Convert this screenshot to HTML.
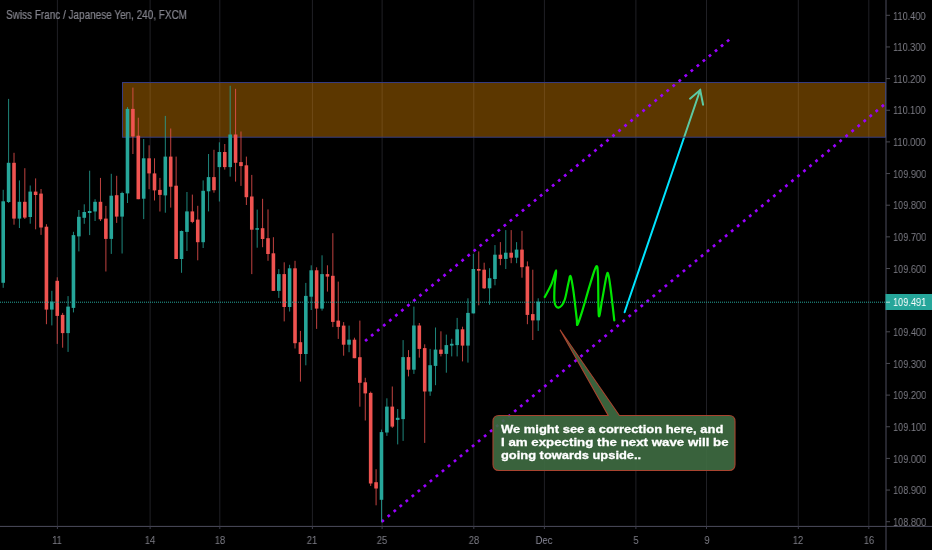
<!DOCTYPE html><html><head><meta charset="utf-8"><style>
html,body{margin:0;padding:0;background:#000;width:932px;height:550px;overflow:hidden;position:relative;font-family:"Liberation Sans",sans-serif}
.t{position:absolute;white-space:nowrap;line-height:1}
.pl{position:absolute;left:893px;font-size:11px;color:#7d7d86;transform-origin:0 0;transform:scaleX(0.835);will-change:transform}
.tl{position:absolute;font-size:10.5px;color:#7d7d86;transform:translateX(-50%) scaleX(0.9);will-change:transform}
</style></head><body>
<svg width="932" height="550" viewBox="0 0 932 550" style="position:absolute;left:0;top:0">
<rect x="56.90" y="0" width="1" height="526" fill="#202025"/>
<rect x="149.60" y="0" width="1" height="526" fill="#202025"/>
<rect x="219.30" y="0" width="1" height="526" fill="#202025"/>
<rect x="311.90" y="0" width="1" height="526" fill="#202025"/>
<rect x="381.60" y="0" width="1" height="526" fill="#202025"/>
<rect x="473.30" y="0" width="1" height="526" fill="#202025"/>
<rect x="543.90" y="0" width="1" height="526" fill="#202025"/>
<rect x="635.40" y="0" width="1" height="526" fill="#202025"/>
<rect x="706.00" y="0" width="1" height="526" fill="#202025"/>
<rect x="797.80" y="0" width="1" height="526" fill="#202025"/>
<rect x="868.30" y="0" width="1" height="526" fill="#202025"/>
<g stroke="#00e5ff" stroke-width="2" stroke-linecap="round" fill="none"><line x1="624.6" y1="312.2" x2="700.2" y2="90.0"/><polyline points="690,98.7 700.2,90.0 703.1,104.7"/></g>
<rect x="122.5" y="82.5" width="763" height="54.7" fill="rgba(255,152,0,0.36)" stroke="#363c80" stroke-width="1"/>
<line x1="366.1" y1="340.2" x2="728.6" y2="40.2" stroke="#9a00ff" stroke-width="2.7" stroke-linecap="square" stroke-dasharray="0.1 7.73"/>
<line x1="382.7" y1="520.9" x2="883.0" y2="105.6" stroke="#9a00ff" stroke-width="2.7" stroke-linecap="square" stroke-dasharray="0.1 7.73"/>
<rect x="2.70" y="189.8" width="1" height="98.0" fill="#26a69a" fill-opacity="0.8"/>
<rect x="1.40" y="201.3" width="3.6" height="81.5" fill="#26a69a"/>
<rect x="8.10" y="98.9" width="1" height="104.1" fill="#26a69a" fill-opacity="0.8"/>
<rect x="6.80" y="162.8" width="3.6" height="39.2" fill="#26a69a"/>
<rect x="13.51" y="152.8" width="1" height="71.9" fill="#ef5350" fill-opacity="0.8"/>
<rect x="12.21" y="162.8" width="3.6" height="55.8" fill="#ef5350"/>
<rect x="18.91" y="180.4" width="1" height="47.6" fill="#26a69a" fill-opacity="0.8"/>
<rect x="17.61" y="201.8" width="3.6" height="16.8" fill="#26a69a"/>
<rect x="24.32" y="168.2" width="1" height="50.8" fill="#ef5350" fill-opacity="0.8"/>
<rect x="23.02" y="201.8" width="3.6" height="15.8" fill="#ef5350"/>
<rect x="29.72" y="185.5" width="1" height="38.2" fill="#26a69a" fill-opacity="0.8"/>
<rect x="28.42" y="191.6" width="3.6" height="25.4" fill="#26a69a"/>
<rect x="35.12" y="178.4" width="1" height="50.9" fill="#ef5350" fill-opacity="0.8"/>
<rect x="33.82" y="191.6" width="3.6" height="3.4" fill="#ef5350"/>
<rect x="40.53" y="189.0" width="1" height="45.9" fill="#ef5350" fill-opacity="0.8"/>
<rect x="39.23" y="193.6" width="3.6" height="33.9" fill="#ef5350"/>
<rect x="45.93" y="224.2" width="1" height="100.0" fill="#ef5350" fill-opacity="0.8"/>
<rect x="44.63" y="226.7" width="3.6" height="82.9" fill="#ef5350"/>
<rect x="51.34" y="290.8" width="1" height="34.6" fill="#26a69a" fill-opacity="0.8"/>
<rect x="50.04" y="301.6" width="3.6" height="8.0" fill="#26a69a"/>
<rect x="56.74" y="277.3" width="1" height="66.6" fill="#ef5350" fill-opacity="0.8"/>
<rect x="55.44" y="280.8" width="3.6" height="35.1" fill="#ef5350"/>
<rect x="62.14" y="312.9" width="1" height="34.8" fill="#ef5350" fill-opacity="0.8"/>
<rect x="60.84" y="314.9" width="3.6" height="18.2" fill="#ef5350"/>
<rect x="67.55" y="296.1" width="1" height="55.8" fill="#26a69a" fill-opacity="0.8"/>
<rect x="66.25" y="306.6" width="3.6" height="26.5" fill="#26a69a"/>
<rect x="72.95" y="231.8" width="1" height="80.6" fill="#26a69a" fill-opacity="0.8"/>
<rect x="71.65" y="235.1" width="3.6" height="72.8" fill="#26a69a"/>
<rect x="78.36" y="210.0" width="1" height="41.4" fill="#26a69a" fill-opacity="0.8"/>
<rect x="77.06" y="216.8" width="3.6" height="19.6" fill="#26a69a"/>
<rect x="83.76" y="204.3" width="1" height="19.5" fill="#26a69a" fill-opacity="0.8"/>
<rect x="82.46" y="212.0" width="3.6" height="5.8" fill="#26a69a"/>
<rect x="89.16" y="170.7" width="1" height="64.4" fill="#26a69a" fill-opacity="0.8"/>
<rect x="87.86" y="211.0" width="3.6" height="2.0" fill="#26a69a"/>
<rect x="94.57" y="199.2" width="1" height="21.8" fill="#26a69a" fill-opacity="0.8"/>
<rect x="93.27" y="201.8" width="3.6" height="9.7" fill="#26a69a"/>
<rect x="99.97" y="177.9" width="1" height="43.1" fill="#ef5350" fill-opacity="0.8"/>
<rect x="98.67" y="201.8" width="3.6" height="17.5" fill="#ef5350"/>
<rect x="105.38" y="205.9" width="1" height="65.6" fill="#ef5350" fill-opacity="0.8"/>
<rect x="104.08" y="218.6" width="3.6" height="20.3" fill="#ef5350"/>
<rect x="110.78" y="173.8" width="1" height="80.1" fill="#26a69a" fill-opacity="0.8"/>
<rect x="109.48" y="195.7" width="3.6" height="43.2" fill="#26a69a"/>
<rect x="116.18" y="175.8" width="1" height="47.1" fill="#ef5350" fill-opacity="0.8"/>
<rect x="114.88" y="195.2" width="3.6" height="21.4" fill="#ef5350"/>
<rect x="121.59" y="191.7" width="1" height="61.8" fill="#26a69a" fill-opacity="0.8"/>
<rect x="120.29" y="193.0" width="3.6" height="23.6" fill="#26a69a"/>
<rect x="126.99" y="107.1" width="1" height="95.9" fill="#26a69a" fill-opacity="0.8"/>
<rect x="125.69" y="108.9" width="3.6" height="84.5" fill="#26a69a"/>
<rect x="132.40" y="87.6" width="1" height="66.4" fill="#ef5350" fill-opacity="0.8"/>
<rect x="131.10" y="108.9" width="3.6" height="27.6" fill="#ef5350"/>
<rect x="137.80" y="117.7" width="1" height="81.5" fill="#ef5350" fill-opacity="0.8"/>
<rect x="136.50" y="135.7" width="3.6" height="63.5" fill="#ef5350"/>
<rect x="143.20" y="139.0" width="1" height="80.1" fill="#26a69a" fill-opacity="0.8"/>
<rect x="141.90" y="158.3" width="3.6" height="40.4" fill="#26a69a"/>
<rect x="148.61" y="145.3" width="1" height="43.9" fill="#ef5350" fill-opacity="0.8"/>
<rect x="147.31" y="158.3" width="3.6" height="15.1" fill="#ef5350"/>
<rect x="154.01" y="158.3" width="1" height="42.2" fill="#ef5350" fill-opacity="0.8"/>
<rect x="152.71" y="173.4" width="3.6" height="17.0" fill="#ef5350"/>
<rect x="159.42" y="177.9" width="1" height="33.6" fill="#ef5350" fill-opacity="0.8"/>
<rect x="158.12" y="189.9" width="3.6" height="5.0" fill="#ef5350"/>
<rect x="164.82" y="115.9" width="1" height="96.8" fill="#26a69a" fill-opacity="0.8"/>
<rect x="163.52" y="156.6" width="3.6" height="38.8" fill="#26a69a"/>
<rect x="170.22" y="128.5" width="1" height="79.1" fill="#ef5350" fill-opacity="0.8"/>
<rect x="168.92" y="156.6" width="3.6" height="30.1" fill="#ef5350"/>
<rect x="175.63" y="156.6" width="1" height="102.4" fill="#ef5350" fill-opacity="0.8"/>
<rect x="174.33" y="185.7" width="3.6" height="73.3" fill="#ef5350"/>
<rect x="181.03" y="230.5" width="1" height="42.3" fill="#26a69a" fill-opacity="0.8"/>
<rect x="179.73" y="231.0" width="3.6" height="28.0" fill="#26a69a"/>
<rect x="186.44" y="192.0" width="1" height="59.0" fill="#26a69a" fill-opacity="0.8"/>
<rect x="185.14" y="211.4" width="3.6" height="20.5" fill="#26a69a"/>
<rect x="191.84" y="194.6" width="1" height="28.6" fill="#ef5350" fill-opacity="0.8"/>
<rect x="190.54" y="211.4" width="3.6" height="10.5" fill="#ef5350"/>
<rect x="197.24" y="205.8" width="1" height="54.5" fill="#ef5350" fill-opacity="0.8"/>
<rect x="195.94" y="219.6" width="3.6" height="22.6" fill="#ef5350"/>
<rect x="202.65" y="180.4" width="1" height="67.6" fill="#26a69a" fill-opacity="0.8"/>
<rect x="201.35" y="190.8" width="3.6" height="51.4" fill="#26a69a"/>
<rect x="208.05" y="154.0" width="1" height="57.4" fill="#26a69a" fill-opacity="0.8"/>
<rect x="206.75" y="177.1" width="3.6" height="14.2" fill="#26a69a"/>
<rect x="213.46" y="149.8" width="1" height="42.9" fill="#ef5350" fill-opacity="0.8"/>
<rect x="212.16" y="177.1" width="3.6" height="13.1" fill="#ef5350"/>
<rect x="218.86" y="142.3" width="1" height="59.2" fill="#26a69a" fill-opacity="0.8"/>
<rect x="217.56" y="152.0" width="3.6" height="15.1" fill="#26a69a"/>
<rect x="224.26" y="144.0" width="1" height="25.6" fill="#ef5350" fill-opacity="0.8"/>
<rect x="222.96" y="152.0" width="3.6" height="15.1" fill="#ef5350"/>
<rect x="229.67" y="85.8" width="1" height="90.8" fill="#26a69a" fill-opacity="0.8"/>
<rect x="228.37" y="134.5" width="3.6" height="32.6" fill="#26a69a"/>
<rect x="235.07" y="88.8" width="1" height="92.8" fill="#ef5350" fill-opacity="0.8"/>
<rect x="233.77" y="134.5" width="3.6" height="28.3" fill="#ef5350"/>
<rect x="240.48" y="131.5" width="1" height="54.4" fill="#ef5350" fill-opacity="0.8"/>
<rect x="239.18" y="162.1" width="3.6" height="4.0" fill="#ef5350"/>
<rect x="245.88" y="156.6" width="1" height="48.4" fill="#ef5350" fill-opacity="0.8"/>
<rect x="244.58" y="165.3" width="3.6" height="31.9" fill="#ef5350"/>
<rect x="251.28" y="174.9" width="1" height="99.2" fill="#ef5350" fill-opacity="0.8"/>
<rect x="249.98" y="196.5" width="3.6" height="33.2" fill="#ef5350"/>
<rect x="256.69" y="209.6" width="1" height="38.1" fill="#26a69a" fill-opacity="0.8"/>
<rect x="255.39" y="228.2" width="3.6" height="1.5" fill="#26a69a"/>
<rect x="262.09" y="198.8" width="1" height="48.4" fill="#ef5350" fill-opacity="0.8"/>
<rect x="260.79" y="228.2" width="3.6" height="10.8" fill="#ef5350"/>
<rect x="267.50" y="209.4" width="1" height="51.4" fill="#ef5350" fill-opacity="0.8"/>
<rect x="266.20" y="238.2" width="3.6" height="15.8" fill="#ef5350"/>
<rect x="272.90" y="237.2" width="1" height="53.7" fill="#ef5350" fill-opacity="0.8"/>
<rect x="271.60" y="253.3" width="3.6" height="37.6" fill="#ef5350"/>
<rect x="278.30" y="269.1" width="1" height="28.8" fill="#26a69a" fill-opacity="0.8"/>
<rect x="277.00" y="274.1" width="3.6" height="16.8" fill="#26a69a"/>
<rect x="283.71" y="262.3" width="1" height="59.1" fill="#ef5350" fill-opacity="0.8"/>
<rect x="282.41" y="274.1" width="3.6" height="32.9" fill="#ef5350"/>
<rect x="289.11" y="264.8" width="1" height="46.7" fill="#26a69a" fill-opacity="0.8"/>
<rect x="287.81" y="268.3" width="3.6" height="38.7" fill="#26a69a"/>
<rect x="294.52" y="260.8" width="1" height="87.7" fill="#ef5350" fill-opacity="0.8"/>
<rect x="293.22" y="268.3" width="3.6" height="74.9" fill="#ef5350"/>
<rect x="299.92" y="330.9" width="1" height="50.7" fill="#ef5350" fill-opacity="0.8"/>
<rect x="298.62" y="342.2" width="3.6" height="11.8" fill="#ef5350"/>
<rect x="305.32" y="282.9" width="1" height="82.4" fill="#26a69a" fill-opacity="0.8"/>
<rect x="304.02" y="295.9" width="3.6" height="58.1" fill="#26a69a"/>
<rect x="310.73" y="265.3" width="1" height="44.7" fill="#26a69a" fill-opacity="0.8"/>
<rect x="309.43" y="270.3" width="3.6" height="26.4" fill="#26a69a"/>
<rect x="316.13" y="267.3" width="1" height="61.6" fill="#ef5350" fill-opacity="0.8"/>
<rect x="314.83" y="270.3" width="3.6" height="38.3" fill="#ef5350"/>
<rect x="321.54" y="255.3" width="1" height="55.3" fill="#26a69a" fill-opacity="0.8"/>
<rect x="320.24" y="274.1" width="3.6" height="34.5" fill="#26a69a"/>
<rect x="326.94" y="265.3" width="1" height="26.3" fill="#ef5350" fill-opacity="0.8"/>
<rect x="325.64" y="274.1" width="3.6" height="2.5" fill="#ef5350"/>
<rect x="332.34" y="233.2" width="1" height="93.9" fill="#ef5350" fill-opacity="0.8"/>
<rect x="331.04" y="275.8" width="3.6" height="46.1" fill="#ef5350"/>
<rect x="337.75" y="281.6" width="1" height="57.3" fill="#ef5350" fill-opacity="0.8"/>
<rect x="336.45" y="320.6" width="3.6" height="6.3" fill="#ef5350"/>
<rect x="343.15" y="322.1" width="1" height="33.6" fill="#ef5350" fill-opacity="0.8"/>
<rect x="341.85" y="325.6" width="3.6" height="19.1" fill="#ef5350"/>
<rect x="348.56" y="325.6" width="1" height="26.6" fill="#26a69a" fill-opacity="0.8"/>
<rect x="347.26" y="339.7" width="3.6" height="5.0" fill="#26a69a"/>
<rect x="353.96" y="337.7" width="1" height="20.5" fill="#ef5350" fill-opacity="0.8"/>
<rect x="352.66" y="339.7" width="3.6" height="18.5" fill="#ef5350"/>
<rect x="359.36" y="320.6" width="1" height="86.1" fill="#ef5350" fill-opacity="0.8"/>
<rect x="358.06" y="357.2" width="3.6" height="25.6" fill="#ef5350"/>
<rect x="364.77" y="377.8" width="1" height="42.7" fill="#ef5350" fill-opacity="0.8"/>
<rect x="363.47" y="382.3" width="3.6" height="11.1" fill="#ef5350"/>
<rect x="370.17" y="391.6" width="1" height="94.4" fill="#ef5350" fill-opacity="0.8"/>
<rect x="368.87" y="392.9" width="3.6" height="90.6" fill="#ef5350"/>
<rect x="375.58" y="469.2" width="1" height="36.1" fill="#ef5350" fill-opacity="0.8"/>
<rect x="374.28" y="482.2" width="3.6" height="6.3" fill="#ef5350"/>
<rect x="380.98" y="429.6" width="1" height="92.8" fill="#26a69a" fill-opacity="0.8"/>
<rect x="379.68" y="432.1" width="3.6" height="67.7" fill="#26a69a"/>
<rect x="386.38" y="398.3" width="1" height="37.6" fill="#26a69a" fill-opacity="0.8"/>
<rect x="385.08" y="406.6" width="3.6" height="25.9" fill="#26a69a"/>
<rect x="391.79" y="386.5" width="1" height="41.4" fill="#ef5350" fill-opacity="0.8"/>
<rect x="390.49" y="406.6" width="3.6" height="20.0" fill="#ef5350"/>
<rect x="397.19" y="409.0" width="1" height="35.4" fill="#26a69a" fill-opacity="0.8"/>
<rect x="395.89" y="417.8" width="3.6" height="2.1" fill="#26a69a"/>
<rect x="402.60" y="340.1" width="1" height="100.8" fill="#26a69a" fill-opacity="0.8"/>
<rect x="401.30" y="357.1" width="3.6" height="62.0" fill="#26a69a"/>
<rect x="408.00" y="350.1" width="1" height="26.3" fill="#ef5350" fill-opacity="0.8"/>
<rect x="406.70" y="357.1" width="3.6" height="12.6" fill="#ef5350"/>
<rect x="413.40" y="306.6" width="1" height="67.3" fill="#26a69a" fill-opacity="0.8"/>
<rect x="412.10" y="325.5" width="3.6" height="44.2" fill="#26a69a"/>
<rect x="418.81" y="323.0" width="1" height="34.6" fill="#ef5350" fill-opacity="0.8"/>
<rect x="417.51" y="325.5" width="3.6" height="23.4" fill="#ef5350"/>
<rect x="424.21" y="344.3" width="1" height="98.6" fill="#ef5350" fill-opacity="0.8"/>
<rect x="422.91" y="348.1" width="3.6" height="43.4" fill="#ef5350"/>
<rect x="429.62" y="348.9" width="1" height="46.9" fill="#26a69a" fill-opacity="0.8"/>
<rect x="428.32" y="365.2" width="3.6" height="26.3" fill="#26a69a"/>
<rect x="435.02" y="327.5" width="1" height="57.7" fill="#26a69a" fill-opacity="0.8"/>
<rect x="433.72" y="349.6" width="3.6" height="16.3" fill="#26a69a"/>
<rect x="440.42" y="331.3" width="1" height="25.1" fill="#ef5350" fill-opacity="0.8"/>
<rect x="439.12" y="349.6" width="3.6" height="4.3" fill="#ef5350"/>
<rect x="445.83" y="334.6" width="1" height="38.1" fill="#26a69a" fill-opacity="0.8"/>
<rect x="444.53" y="345.1" width="3.6" height="8.8" fill="#26a69a"/>
<rect x="451.23" y="338.8" width="1" height="17.6" fill="#26a69a" fill-opacity="0.8"/>
<rect x="449.93" y="343.8" width="3.6" height="1.8" fill="#26a69a"/>
<rect x="456.64" y="317.9" width="1" height="38.5" fill="#26a69a" fill-opacity="0.8"/>
<rect x="455.34" y="329.3" width="3.6" height="15.8" fill="#26a69a"/>
<rect x="462.04" y="326.7" width="1" height="34.7" fill="#ef5350" fill-opacity="0.8"/>
<rect x="460.74" y="329.3" width="3.6" height="16.3" fill="#ef5350"/>
<rect x="467.44" y="298.3" width="1" height="64.3" fill="#26a69a" fill-opacity="0.8"/>
<rect x="466.14" y="312.9" width="3.6" height="32.7" fill="#26a69a"/>
<rect x="472.85" y="253.9" width="1" height="59.5" fill="#26a69a" fill-opacity="0.8"/>
<rect x="471.55" y="269.0" width="3.6" height="44.4" fill="#26a69a"/>
<rect x="478.25" y="251.4" width="1" height="53.9" fill="#ef5350" fill-opacity="0.8"/>
<rect x="476.95" y="269.0" width="3.6" height="1.7" fill="#ef5350"/>
<rect x="483.66" y="262.7" width="1" height="26.3" fill="#ef5350" fill-opacity="0.8"/>
<rect x="482.36" y="269.7" width="3.6" height="18.6" fill="#ef5350"/>
<rect x="489.06" y="268.2" width="1" height="36.6" fill="#26a69a" fill-opacity="0.8"/>
<rect x="487.76" y="278.2" width="3.6" height="10.1" fill="#26a69a"/>
<rect x="494.46" y="245.1" width="1" height="40.2" fill="#26a69a" fill-opacity="0.8"/>
<rect x="493.16" y="254.7" width="3.6" height="24.3" fill="#26a69a"/>
<rect x="499.87" y="242.1" width="1" height="23.1" fill="#ef5350" fill-opacity="0.8"/>
<rect x="498.57" y="254.7" width="3.6" height="4.2" fill="#ef5350"/>
<rect x="505.27" y="230.1" width="1" height="38.9" fill="#26a69a" fill-opacity="0.8"/>
<rect x="503.97" y="252.7" width="3.6" height="6.2" fill="#26a69a"/>
<rect x="510.68" y="230.1" width="1" height="33.1" fill="#ef5350" fill-opacity="0.8"/>
<rect x="509.38" y="252.7" width="3.6" height="5.0" fill="#ef5350"/>
<rect x="516.08" y="242.1" width="1" height="21.1" fill="#26a69a" fill-opacity="0.8"/>
<rect x="514.78" y="249.6" width="3.6" height="8.1" fill="#26a69a"/>
<rect x="521.48" y="230.8" width="1" height="46.9" fill="#ef5350" fill-opacity="0.8"/>
<rect x="520.18" y="249.6" width="3.6" height="17.6" fill="#ef5350"/>
<rect x="526.89" y="261.4" width="1" height="62.8" fill="#ef5350" fill-opacity="0.8"/>
<rect x="525.59" y="266.4" width="3.6" height="48.5" fill="#ef5350"/>
<rect x="532.29" y="269.7" width="1" height="70.3" fill="#ef5350" fill-opacity="0.8"/>
<rect x="530.99" y="314.1" width="3.6" height="6.3" fill="#ef5350"/>
<rect x="537.70" y="298.3" width="1" height="32.6" fill="#26a69a" fill-opacity="0.8"/>
<rect x="536.40" y="301.6" width="3.6" height="18.8" fill="#26a69a"/>
<line x1="0" y1="302.2" x2="885" y2="302.2" stroke="#26a69a" stroke-width="1" stroke-dasharray="1 1"/>
<path d="M544.7,297.1 C545.80,294.98 549.38,288.83 551.3,284.4 C553.22,279.97 555.65,270.23 556.2,270.5 C556.75,270.77 554.87,280.68 554.6,286 C554.33,291.32 553.92,298.80 554.6,302.4 C555.28,306.00 557.07,307.88 558.7,307.6 C560.33,307.32 562.77,304.85 564.4,300.7 C566.03,296.55 567.47,286.78 568.5,282.7 C569.53,278.62 569.78,274.83 570.6,276.2 C571.42,277.57 572.38,283.82 573.4,290.9 C574.42,297.98 576.02,313.10 576.7,318.7 C577.38,324.30 576.55,325.85 577.5,324.5 C578.45,323.15 580.22,317.57 582.4,310.6 C584.58,303.63 588.28,290.07 590.6,282.7 C592.92,275.33 595.07,267.48 596.3,266.4 C597.53,265.32 597.58,268.02 598,276.2 C598.42,284.38 598.13,311.42 598.8,315.5 C599.47,319.58 600.72,307.28 602,300.7 C603.28,294.12 605.45,280.37 606.5,276 C607.55,271.63 607.63,272.57 608.3,274.5 C608.97,276.43 609.50,279.95 610.5,287.6 C611.50,295.25 613.67,314.93 614.3,320.4" stroke="#00e600" stroke-width="2.2" fill="none" stroke-linejoin="round" stroke-linecap="round"/>
<path d="M499,415.5 L608.2,415.5 L560,329.7 L619.4,415.5 L729,415.5 Q735,415.5 735,421.5 L735,464.5 Q735,470.5 729,470.5 L499,470.5 Q493,470.5 493,464.5 L493,421.5 Q493,415.5 499,415.5 Z" fill="rgba(63,109,66,0.9)" stroke="#a8442f" stroke-width="1.1"/>
<rect x="885.5" y="0" width="1" height="550" fill="#4c4c5c"/>
<rect x="0" y="525.9" width="932" height="1" fill="#4c4c5c"/>
<rect x="886" y="14.80" width="4" height="1" fill="#4a4a52"/>
<rect x="886" y="46.45" width="4" height="1" fill="#4a4a52"/>
<rect x="886" y="78.10" width="4" height="1" fill="#4a4a52"/>
<rect x="886" y="109.75" width="4" height="1" fill="#4a4a52"/>
<rect x="886" y="141.40" width="4" height="1" fill="#4a4a52"/>
<rect x="886" y="173.05" width="4" height="1" fill="#4a4a52"/>
<rect x="886" y="204.70" width="4" height="1" fill="#4a4a52"/>
<rect x="886" y="236.35" width="4" height="1" fill="#4a4a52"/>
<rect x="886" y="268.00" width="4" height="1" fill="#4a4a52"/>
<rect x="886" y="299.65" width="4" height="1" fill="#4a4a52"/>
<rect x="886" y="331.30" width="4" height="1" fill="#4a4a52"/>
<rect x="886" y="362.95" width="4" height="1" fill="#4a4a52"/>
<rect x="886" y="394.60" width="4" height="1" fill="#4a4a52"/>
<rect x="886" y="426.25" width="4" height="1" fill="#4a4a52"/>
<rect x="886" y="457.90" width="4" height="1" fill="#4a4a52"/>
<rect x="886" y="489.55" width="4" height="1" fill="#4a4a52"/>
<rect x="886" y="521.20" width="4" height="1" fill="#4a4a52"/>
<rect x="56.90" y="526" width="1" height="3" fill="#3e3e4c"/>
<rect x="149.60" y="526" width="1" height="3" fill="#3e3e4c"/>
<rect x="219.30" y="526" width="1" height="3" fill="#3e3e4c"/>
<rect x="311.90" y="526" width="1" height="3" fill="#3e3e4c"/>
<rect x="381.60" y="526" width="1" height="3" fill="#3e3e4c"/>
<rect x="473.30" y="526" width="1" height="3" fill="#3e3e4c"/>
<rect x="543.90" y="526" width="1" height="3" fill="#3e3e4c"/>
<rect x="635.40" y="526" width="1" height="3" fill="#3e3e4c"/>
<rect x="706.00" y="526" width="1" height="3" fill="#3e3e4c"/>
<rect x="797.80" y="526" width="1" height="3" fill="#3e3e4c"/>
<rect x="868.30" y="526" width="1" height="3" fill="#3e3e4c"/>
<rect x="885.5" y="294" width="47" height="16" fill="#26a69a"/>
<rect x="886" y="301.7" width="4" height="1" fill="#b8e0da"/>
</svg>
<div class="t" style="left:6px;top:9px;font-size:12px;color:#83838c;-webkit-text-stroke:0.2px #83838c;transform-origin:0 0;transform:scaleX(0.83);will-change:transform">Swiss Franc / Japanese Yen, 240, FXCM</div>
<div class="t pl" style="top:10.5px">110.400</div>
<div class="t pl" style="top:42.2px">110.300</div>
<div class="t pl" style="top:73.8px">110.200</div>
<div class="t pl" style="top:105.4px">110.100</div>
<div class="t pl" style="top:137.1px">110.000</div>
<div class="t pl" style="top:168.8px">109.900</div>
<div class="t pl" style="top:200.4px">109.800</div>
<div class="t pl" style="top:232.0px">109.700</div>
<div class="t pl" style="top:263.7px">109.600</div>
<div class="t pl" style="top:327.0px">109.400</div>
<div class="t pl" style="top:358.6px">109.300</div>
<div class="t pl" style="top:390.3px">109.200</div>
<div class="t pl" style="top:421.9px">109.100</div>
<div class="t pl" style="top:453.6px">109.000</div>
<div class="t pl" style="top:485.2px">108.900</div>
<div class="t pl" style="top:516.9px">108.800</div>
<div class="t pl" style="top:297.1px;color:#fff">109.491</div>
<div class="t tl" style="left:57.4px;top:535px">11</div>
<div class="t tl" style="left:150.1px;top:535px">14</div>
<div class="t tl" style="left:219.8px;top:535px">18</div>
<div class="t tl" style="left:312.4px;top:535px">21</div>
<div class="t tl" style="left:382.1px;top:535px">25</div>
<div class="t tl" style="left:473.8px;top:535px">28</div>
<div class="t tl" style="left:544.4px;top:535px;color:#8a8a98">Dec</div>
<div class="t tl" style="left:635.9px;top:535px">5</div>
<div class="t tl" style="left:706.5px;top:535px">9</div>
<div class="t tl" style="left:798.3px;top:535px">12</div>
<div class="t tl" style="left:868.8px;top:535px">16</div>
<div class="t" style="left:501px;top:423px;font-size:11.5px;font-weight:bold;color:#fff;line-height:13px;-webkit-text-stroke:0.3px #fff;transform-origin:0 0;transform:scaleX(1.127);will-change:transform">We might see a correction here, and</div>
<div class="t" style="left:501px;top:436px;font-size:11.5px;font-weight:bold;color:#fff;line-height:13px;-webkit-text-stroke:0.3px #fff;transform-origin:0 0;transform:scaleX(1.156);will-change:transform">I am expecting the next wave will be</div>
<div class="t" style="left:501px;top:449px;font-size:11.5px;font-weight:bold;color:#fff;line-height:13px;-webkit-text-stroke:0.3px #fff;transform-origin:0 0;transform:scaleX(1.119);will-change:transform">going towards upside..</div>
</body></html>
